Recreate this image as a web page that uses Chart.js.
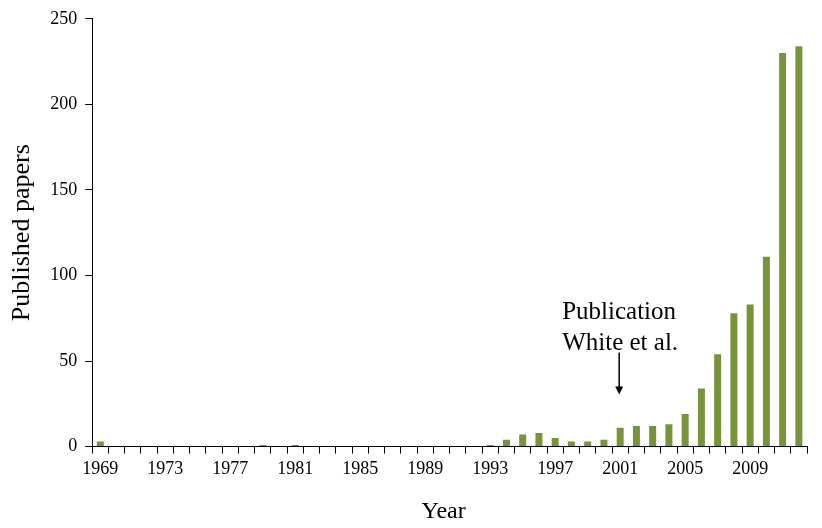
<!DOCTYPE html>
<html>
<head>
<meta charset="utf-8">
<script src="https://cdn.jsdelivr.net/npm/chart.js@4/dist/chart.umd.min.js"></script>
<style>
  body { margin: 0; background: #fff; }
  #wrap { width: 822px; height: 528px; }
</style>
</head>
<body>
<div id="wrap"><canvas id="chart-papers"></canvas></div>
<script>
// Years 1969 - 2012
const years = [];
for (let y = 1969; y <= 2012; y++) years.push(String(y));

// Published papers per year
const papers = [
    3, 0, 0, 0, 0, 0, 0, 0, 0, 0,      // 1969-1978
    1, 0, 1, 0, 0, 0, 0, 0, 0, 0,      // 1979-1988
    0, 0, 0, 0, 1, 4, 7, 8, 5, 3,      // 1989-1998
    3, 4, 11, 12, 12, 13, 19, 34, 54, 78, // 1999-2008
    83, 111, 230, 234                  // 2009-2012
];

const yTicks = [0, 50, 100, 150, 200, 250];
const noteLines = ['Publication', 'White et al.'];
const noteYear = '2001';

const serif = '"Liberation Serif", "Times New Roman", serif';

// Annotation: text plus arrow pointing at 2001
const notePlugin = {
    id: 'note',
    afterDraw(chart) {
        const ctx = chart.ctx;
        const xs = chart.scales.x;
        const ys = chart.scales.y;
        const x = xs.getPixelForValue(years.indexOf(noteYear)) - 1;
        ctx.save();
        ctx.fillStyle = '#000';
        ctx.strokeStyle = '#000';
        ctx.font = '25px ' + serif;
        ctx.textAlign = 'left';
        ctx.textBaseline = 'alphabetic';
        ctx.fillText(noteLines[0], x - 57, ys.getPixelForValue(74.8));
        ctx.fillText(noteLines[1], x - 57, ys.getPixelForValue(56.7));
        // arrow
        const y0 = ys.getPixelForValue(55);
        const y1 = ys.getPixelForValue(30.4);
        ctx.lineWidth = 1.5;
        ctx.beginPath();
        ctx.moveTo(x, y0);
        ctx.lineTo(x, y1 - 6);
        ctx.stroke();
        ctx.beginPath();
        ctx.moveTo(x - 4, y1 - 8);
        ctx.lineTo(x + 4, y1 - 8);
        ctx.lineTo(x, y1);
        ctx.closePath();
        ctx.fill();
        ctx.restore();
    }
};

const ctxPapers = document.getElementById('chart-papers');
new Chart(ctxPapers, {
    type: 'bar',
    data: {
        labels: years,
        datasets: [{
            label: 'Published papers',
            data: papers,
            backgroundColor: '#77933c',
            barPercentage: 0.86,
            categoryPercentage: 0.5
        }]
    },
    options: {
        responsive: true,
        maintainAspectRatio: false,
        animation: false,
        layout: { padding: { top: 18, right: 15, left: 3, bottom: 0 } },
        plugins: {
            legend: { display: false },
            tooltip: { enabled: false }
        },
        scales: {
            x: {
                grid: {
                    offset: true,
                    drawOnChartArea: false,
                    drawTicks: true,
                    tickLength: 7,
                    color: '#000'
                },
                border: { color: '#000', width: 1 },
                ticks: {
                    autoSkip: false,
                    maxRotation: 0,
                    color: '#000',
                    font: { family: serif, size: 18 },
                    padding: 5,
                    callback: (v, i) => (i % 4 === 0 ? years[i] : '')
                },
                title: {
                    display: true,
                    text: 'Year\u2002',
                    color: '#000',
                    font: { family: serif, size: 24 },
                    padding: { top: 12, bottom: 2 }
                }
            },
            y: {
                min: 0,
                max: 250,
                afterBuildTicks: (axis) => { axis.ticks = yTicks.map(v => ({ value: v })); },
                grid: {
                    drawOnChartArea: false,
                    drawTicks: true,
                    tickLength: 7,
                    color: '#000'
                },
                border: { color: '#000', width: 1 },
                ticks: {
                    color: '#000',
                    font: { family: serif, size: 18 },
                    padding: 8
                },
                title: {
                    display: true,
                    text: 'Published papers',
                    color: '#000',
                    font: { family: serif, size: 26 },
                    padding: { bottom: 4 }
                }
            }
        }
    },
    plugins: [notePlugin]
});
</script>
</body>
</html>
